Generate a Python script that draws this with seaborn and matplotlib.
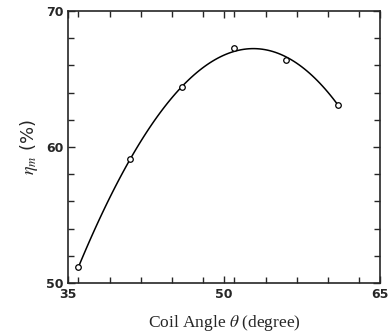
"""Motor efficiency versus coil angle."""

import matplotlib.pyplot as plt
import numpy as np
import seaborn as sns
from matplotlib.ticker import MultipleLocator

coil_angle = [36.0, 41.0, 46.0, 51.0, 56.0, 61.0]
efficiency = [51.2, 59.1, 64.4, 67.3, 66.4, 63.1]

x_major = [35, 50, 65]
y_major = [50, 60, 70]

sns.set_style("ticks")
plt.rcParams["font.family"] = ["DejaVu Sans"]
plt.rcParams["mathtext.fontset"] = "stix"

fig = plt.figure(figsize=(3.89, 3.36), dpi=100)
ax = fig.add_axes([0.175, 0.158, 0.802, 0.809])

# smooth fitted curve through the measurements
sns.regplot(
    x=np.array(coil_angle),
    y=np.array(efficiency),
    order=3,
    ci=None,
    truncate=True,
    scatter=False,
    color="black",
    line_kws={"linewidth": 1.1},
    ax=ax,
)
sns.scatterplot(
    x=coil_angle,
    y=efficiency,
    marker="o",
    s=16,
    facecolor="white",
    edgecolor="black",
    linewidth=0.9,
    zorder=3,
    ax=ax,
)

ax.set_xlim(35, 65)
ax.set_ylim(50, 70)
ax.set_xticks(x_major)
ax.set_yticks(y_major)
ax.xaxis.set_minor_locator(MultipleLocator(3))
ax.yaxis.set_minor_locator(MultipleLocator(2))
ax.tick_params(which="both", direction="in", top=True, right=True, width=1.0)
ax.tick_params(which="major", length=5)
ax.tick_params(which="minor", length=4)
for lab in ax.get_xticklabels() + ax.get_yticklabels():
    lab.set_fontweight("bold")
    lab.set_fontsize(9)
for spine in ax.spines.values():
    spine.set_linewidth(1.2)

ax.set_xlabel(r"Coil Angle $\theta$ (degree)", family="Liberation Serif", fontsize=12.5, labelpad=9)
ax.set_ylabel(r"$\eta_m$ (%)", fontsize=13, labelpad=4)

fig.savefig("out.png", dpi=100)
